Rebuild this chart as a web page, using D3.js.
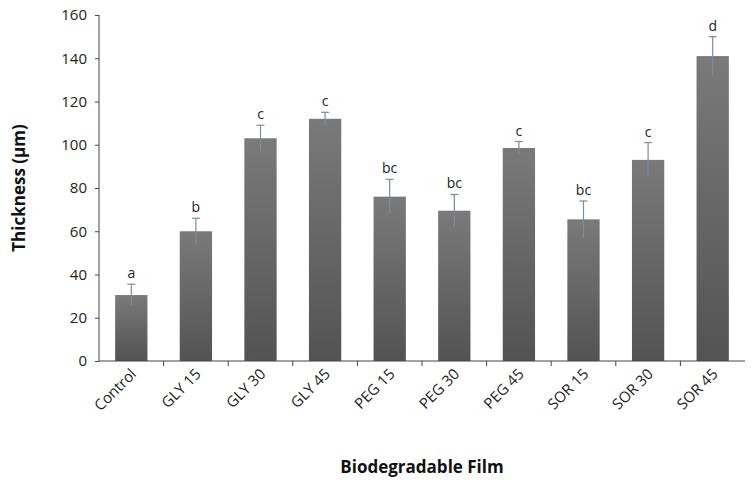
<!DOCTYPE html>
<html><head><meta charset="utf-8">
<script src="https://cdn.jsdelivr.net/npm/d3@7"></script>
<style>body{margin:0;background:#fff}text{font-family:"Open Sans",sans-serif}</style>
</head><body>
<script>
const categories = ["Control","GLY 15","GLY 30","GLY 45","PEG 15","PEG 30","PEG 45","SOR 15","SOR 30","SOR 45"]
const means = [30.5, 60, 103, 112, 76, 69.5, 98.5, 65.5, 93, 141]
const errors = [5, 6, 6, 3, 8, 7.5, 3, 8.5, 8, 9]
const letters = ["a","b","c","c","bc","bc","c","bc","c","d"]
const yTicks = [0,20,40,60,80,100,120,140,160]

const width = 753, height = 486
const m = {left: 99, right: 8, top: 15, bottom: 125}

const svg = d3.select("body").append("svg").attr("width", width).attr("height", height)

const grad = svg.append("defs").append("linearGradient").attr("id", "bar").attr("x1", 0).attr("y1", 0).attr("x2", 0).attr("y2", 1)
grad.append("stop").attr("offset", "0%").attr("stop-color", "#7a7a7a")
grad.append("stop").attr("offset", "100%").attr("stop-color", "#535353")

const x = d3.scaleBand().domain(categories).range([m.left, width - m.right]).paddingInner(0.5).paddingOuter(0.25)
const y = d3.scaleLinear().domain([0, 160]).range([height - m.bottom, m.top])

// bars
svg.selectAll("rect.bar").data(categories).join("rect")
    .attr("class", "bar")
    .attr("x", d => x(d))
    .attr("width", x.bandwidth())
    .attr("y", (d, i) => y(means[i]))
    .attr("height", (d, i) => y(0) - y(means[i]))
    .attr("fill", "url(#bar)")

// error bars
const eg = svg.append("g").attr("stroke", "#7f8c99").attr("stroke-width", 1.2)
categories.forEach((c, i) => {
    const cx = x(c) + x.bandwidth() / 2
    eg.append("line").attr("x1", cx).attr("x2", cx).attr("y1", y(means[i] - errors[i])).attr("y2", y(means[i] + errors[i]))
    eg.append("line").attr("x1", cx - 4).attr("x2", cx + 4).attr("y1", y(means[i] + errors[i])).attr("y2", y(means[i] + errors[i]))
})

// significance letters
svg.selectAll("text.letter").data(categories).join("text")
    .attr("class", "letter")
    .attr("x", d => x(d) + x.bandwidth() / 2)
    .attr("y", (d, i) => y(means[i] + errors[i]) - 6)
    .attr("text-anchor", "middle")
    .style("font-size", "14px").style("fill", "#222")
    .text((d, i) => letters[i])

// y axis
const ya = svg.append("g").attr("transform", `translate(${m.left},0)`)
    .call(d3.axisLeft(y).tickValues(yTicks).tickSize(4).tickPadding(8))
ya.selectAll("text").style("font-size", "15px").style("fill", "#222")
ya.selectAll("line,path").attr("stroke", "#444")
ya.select(".domain").attr("d", `M0,${y(160)}V${y(0)}`)

// x axis
const xa = svg.append("g").attr("transform", `translate(0,${y(0)})`)
xa.append("line").attr("x1", m.left).attr("x2", width - m.right).attr("stroke", "#444")
const step = x.step()
xa.selectAll("line.tick").data(categories.slice(1)).join("line")
    .attr("class", "tick")
    .attr("x1", d => x(d) - step * 0.25).attr("x2", d => x(d) - step * 0.25)
    .attr("y1", 0).attr("y2", 5).attr("stroke", "#444")
xa.selectAll("text").data(categories).join("text")
    .attr("transform", d => `translate(${x(d) + x.bandwidth() / 2 + 6},14) rotate(-45)`)
    .attr("text-anchor", "end")
    .style("font-size", "15px").style("fill", "#222")
    .text(d => d)

// axis titles
svg.append("text").attr("transform", `translate(25,${(y(0) + y(160)) / 2}) rotate(-90)`)
    .attr("text-anchor", "middle").style("font-size", "17px").style("font-weight", "bold").style("fill", "#111")
    .text("Thickness (µm)")
svg.append("text").attr("x", (m.left + width - m.right) / 2).attr("y", 473)
    .attr("text-anchor", "middle").style("font-size", "17px").style("font-weight", "bold").style("fill", "#111")
    .text("Biodegradable Film")
</script>
</body></html>
